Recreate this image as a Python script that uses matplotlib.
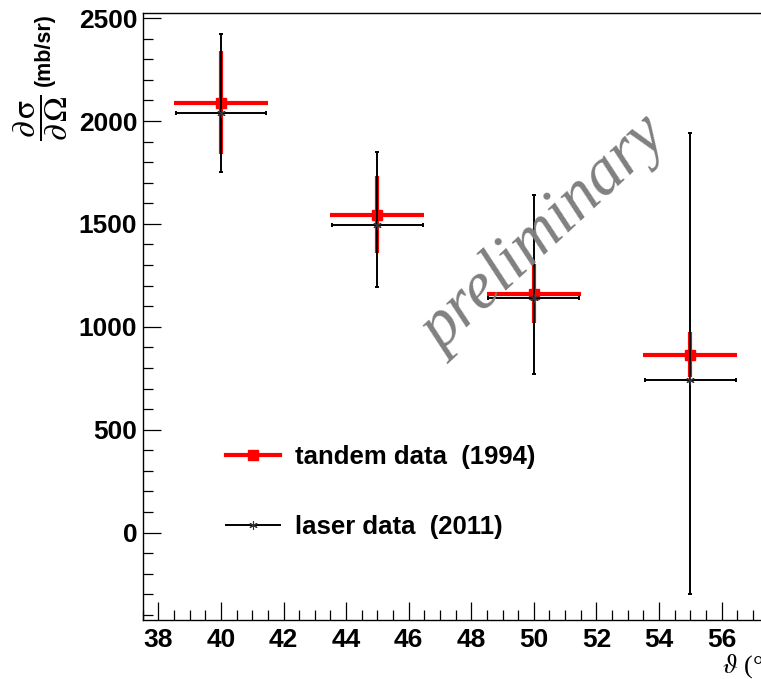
#!/usr/bin/env python3
import matplotlib
matplotlib.use("Agg")
import matplotlib.pyplot as plt
from matplotlib.lines import Line2D
from matplotlib.ticker import MultipleLocator
from matplotlib.transforms import Affine2D

# tandem data (1994)
tandem_theta = [40, 45, 50, 55]
tandem_xs = [2090, 1545, 1160, 864]
tandem_xerr = [1.5, 1.5, 1.5, 1.5]
tandem_yerr = [250, 187, 143, 110]

# laser data (2011), asymmetric errors
laser_theta = [40, 45, 50, 55]
laser_xs = [2040, 1496, 1140, 739]
laser_xerr = [1.45, 1.45, 1.45, 1.45]
laser_err_lo = [286, 305, 369, 1038]
laser_err_hi = [381, 352, 502, 1202]

x_ticks = [38, 40, 42, 44, 46, 48, 50, 52, 54, 56]
y_ticks = [0, 500, 1000, 1500, 2000, 2500]

plt.rcParams['font.family'] = ['Liberation Sans', 'DejaVu Sans']
plt.rcParams['mathtext.fontset'] = 'stix'

W, H = 761, 679
fig = plt.figure(figsize=(W / 100, H / 100), dpi=100)
ax = fig.add_axes([142.7 / W, 1 - 620 / H, (768.5 - 142.7) / W, (620 - 13) / H])

ax.errorbar(tandem_theta, tandem_xs, xerr=tandem_xerr, yerr=tandem_yerr,
            fmt='s', color='red', ms=7, lw=3, capsize=0, zorder=2)
ax.errorbar(laser_theta, laser_xs, xerr=laser_xerr,
            yerr=[laser_err_lo, laser_err_hi],
            fmt='none', ecolor='black', lw=1.4, capsize=1.5, capthick=1.4, zorder=3)
ax.plot(laser_theta, laser_xs, ls='none', marker=(6, 2, 0), ms=6,
        mec='#333333', mew=0.8, zorder=4)

ax.set_xlim(37.5, 57.5)
ax.set_ylim(-425, 2525)
ax.set_xticks(x_ticks)
ax.set_yticks(y_ticks)
ax.xaxis.set_minor_locator(MultipleLocator(0.5))
ax.yaxis.set_minor_locator(MultipleLocator(100))
ax.tick_params(which='both', direction='in', width=0.9, color='black')
ax.tick_params(which='major', length=13)
ax.tick_params(which='minor', length=7)
ax.tick_params(axis='x', which='major', pad=6)
ax.tick_params(axis='y', which='major', pad=4)
for lab in ax.get_xticklabels() + ax.get_yticklabels():
    lab.set_fontsize(19)
    lab.set_fontweight('bold')
for sp in ax.spines.values():
    sp.set_linewidth(1.0)

# y axis title
fig.text(41 / W, 1 - 118 / H,
         r'$\dfrac{\partial\,\mathrm{\sigma}}{\partial\,\mathrm{\Omega}}$',
         rotation=90, fontsize=24, ha='center', va='center')
fig.text(44 / W, 1 - 50 / H, '(mb/sr)', rotation=90, fontsize=15.5,
         fontweight='bold', ha='center', va='center')
# x axis title (cut by the picture edge, as in the original)
fig.text(722 / W, 1 - 666 / H, r'$\vartheta$ (°)', fontsize=19,
         family='Liberation Serif', ha='left', va='center')

# watermark
ax.text(545, 235, 'preliminary', rotation=43,
        rotation_mode='anchor', fontsize=48, style='italic',
        family='Liberation Serif', color='#808080', ha='center', va='center',
        transform=Affine2D().scale(1, -1).translate(0, H))

handles = [Line2D([], [], color='red', lw=3, marker='s', ms=7),
           Line2D([], [], color='black', lw=1.4, marker=(6, 2, 0), ms=6,
                  mec='#333333', mew=0.8)]
labels = ['tandem data  (1994)', 'laser data  (2011)']
leg = ax.legend(handles, labels, loc='upper left',
                bbox_to_anchor=(226 / W, 1 - 445 / H),
                bbox_transform=fig.transFigure, frameon=False,
                borderpad=0, borderaxespad=0, handlelength=2.1,
                handletextpad=0.6, labelspacing=1.78,
                prop={'size': 18.5, 'weight': 'bold'})

fig.savefig('out.png', dpi=100)
